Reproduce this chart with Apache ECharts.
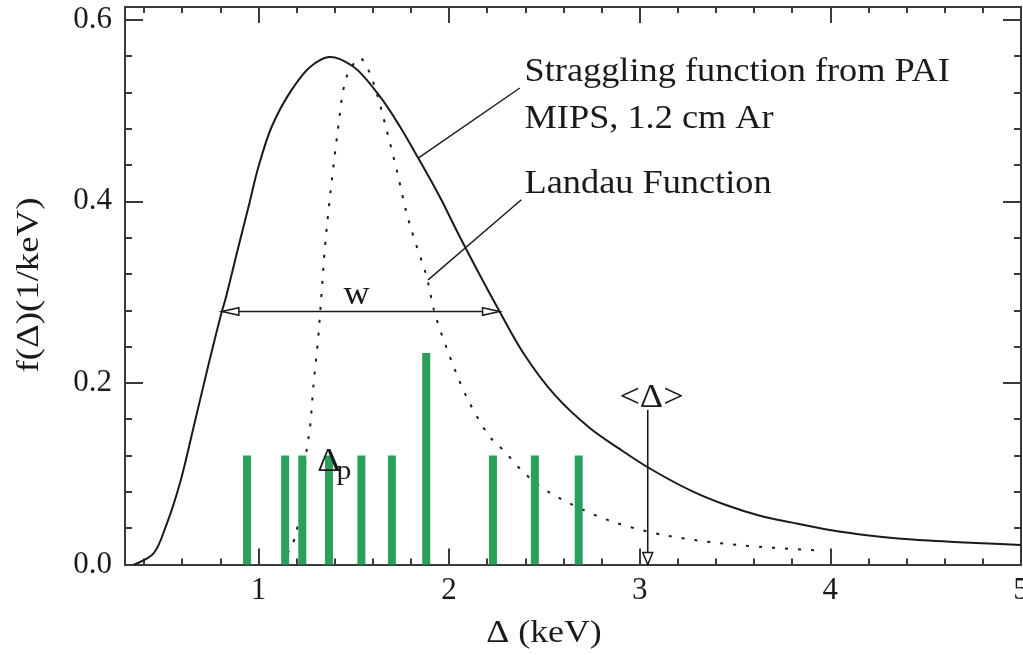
<!DOCTYPE html>
<html>
<head>
<meta charset="utf-8">
<title>Straggling function vs Landau function</title>
<script src="https://cdn.jsdelivr.net/npm/echarts@6.0.0/dist/echarts.min.js"></script>
<style>
  html, body { margin: 0; padding: 0; background: #ffffff; }
  #chart { width: 1023px; height: 655px; }
</style>
</head>
<body>
<div id="chart"></div>
<script>
// Energy loss Δ (keV) and density f(Δ) (1/keV) for the PAI straggling function
const stragglingDelta = [0.345, 0.363, 0.450, 0.520, 0.590, 0.660, 0.730, 0.808, 0.826, 0.895, 0.948, 1.000, 1.070, 1.175, 1.271, 1.370,
  1.497, 1.637, 1.742, 1.838, 1.951, 2.056, 2.265, 2.390, 2.554, 2.738, 2.894, 3.042, 3.277, 3.452, 3.626, 3.801, 3.998, 4.202, 4.412, 4.674, 5.000];
const stragglingDensity = [0.000, 0.0013, 0.0123, 0.0454, 0.0909, 0.1515, 0.2132, 0.2786, 0.2915, 0.350, 0.394, 0.438, 0.4824, 0.523, 0.548, 0.559,
  0.5485, 0.5155, 0.4824, 0.4476, 0.405, 0.361, 0.2786, 0.2327, 0.1868, 0.1504, 0.1273, 0.1071, 0.0805, 0.0655, 0.054, 0.0461, 0.038, 0.032, 0.0278, 0.0245, 0.0215];

// Landau function over the same energy-loss range
const landauDelta = [1.150, 1.166, 1.209, 1.253, 1.271, 1.288, 1.314, 1.328, 1.349, 1.370, 1.393, 1.419, 1.445, 1.471, 1.532,
  1.576, 1.620, 1.672, 1.725, 1.777, 1.815, 1.882, 1.925, 2.004, 2.091, 2.213, 2.283, 2.387, 2.492, 2.632, 2.841, 3.068, 3.225, 3.400, 3.626, 3.958];
const landauDensity = [0.0127, 0.016, 0.0454, 0.1262, 0.1518, 0.1959, 0.251, 0.2896, 0.3502, 0.3943, 0.4383, 0.4824, 0.5229, 0.5413, 0.5578,
  0.5449, 0.5192, 0.4788, 0.4347, 0.387, 0.360, 0.3171, 0.2768, 0.229, 0.1849, 0.1408, 0.1262, 0.1023, 0.084, 0.0674, 0.0483, 0.035, 0.0289, 0.024, 0.0196, 0.0152];

// Individual energy-loss samples (green bars)
const sampleDelta = [0.94, 1.14, 1.23, 1.37, 1.54, 1.70, 1.88, 2.23, 2.45, 2.68];
const sampleHeight = [0.12, 0.12, 0.12, 0.12, 0.12, 0.12, 0.233, 0.12, 0.12, 0.12];

// Tick values
const xMajorTicks = [1, 2, 3, 4, 5];
const xMinorTicks = [0.4, 0.6, 0.8, 1.2, 1.4, 1.6, 1.8, 2.2, 2.4, 2.6, 2.8, 3.2, 3.4, 3.6, 3.8, 4.2, 4.4, 4.6, 4.8];
const yMajorTicks = [0, 0.2, 0.4, 0.6];
const yMinorTicks = [0.04, 0.08, 0.12, 0.16, 0.24, 0.28, 0.32, 0.36, 0.44, 0.48, 0.52, 0.56];

// Annotation texts
const legendLines = ['Straggling function from PAI', 'MIPS, 1.2 cm Ar', 'Landau Function'];
const widthLabel = 'w';
const meanLabel = '<Δ>';
const peakLabel = ['Δ', 'p'];
const xTitle = 'Δ (keV)';
const yTitle = 'f(Δ)(1/keV)';

// Key quantities of the distribution
const fwhmLevel = 0.2786;             // half maximum
const fwhmRange = [0.808, 2.265];     // where the straggling curve crosses half maximum
const meanDelta = 3.042;              // mean energy loss <Δ>

// Annotation anchors in data units
const anchors = {
  legendX: 2.396,
  legendY: [0.5416, 0.4898, 0.4182],
  stragglingLeader: [[1.838, 0.4476], [2.371, 0.5248]],
  landauLeader: [[1.890, 0.3135], [2.379, 0.4017]],
  widthText: [1.515, 0.297],
  meanText: [3.062, 0.1835],
  meanArrowTop: 0.1703,
  peakText: [1.308, 0.113],
  peakSub: [1.41, 0.1025]
};

const FONT = '"Liberation Serif", "Times New Roman", serif';
const INK = '#1a1a1a';
const FRAME = '#3a3a3a';
const TEXT_STRETCH = 1.1;

const stragglingData = stragglingDelta.map((d, i) => [d, stragglingDensity[i]]);
const landauData = landauDelta.map((d, i) => [d, landauDensity[i]]);
const sampleData = sampleDelta.map((d, i) => [d, sampleHeight[i]]);

function xAxisDef(position, ticks, length, withLabels) {
  return {
    type: 'value', min: 0.3, max: 5, position: position,
    axisLine: { show: true, onZero: false, lineStyle: { color: FRAME, width: 2 } },
    axisTick: { show: true, inside: true, length: length, customValues: ticks, lineStyle: { color: FRAME, width: 2 } },
    axisLabel: withLabels ? {
      show: true, customValues: ticks, margin: 11, color: INK,
      fontFamily: FONT, fontSize: 31, formatter: v => String(v)
    } : { show: false },
    splitLine: { show: false },
    minorTick: { show: false }
  };
}
function yAxisDef(position, ticks, length, withLabels) {
  return {
    type: 'value', min: 0, max: 0.614, position: position,
    axisLine: { show: true, onZero: false, lineStyle: { color: FRAME, width: 2 } },
    axisTick: { show: true, inside: true, length: length, customValues: ticks, lineStyle: { color: FRAME, width: 2 } },
    axisLabel: withLabels ? {
      show: true, customValues: ticks, margin: 13, color: INK,
      fontFamily: FONT, fontSize: 31, formatter: v => v.toFixed(1)
    } : { show: false },
    splitLine: { show: false },
    minorTick: { show: false }
  };
}

const xAxes = [
  xAxisDef('bottom', xMajorTicks, 16, true),
  xAxisDef('bottom', xMinorTicks, 6, false),
  xAxisDef('top', xMajorTicks, 16, false),
  xAxisDef('top', xMinorTicks, 6, false)
];
const yAxes = [
  yAxisDef('left', yMajorTicks, 18, true),
  yAxisDef('left', yMinorTicks, 7, false),
  yAxisDef('right', yMajorTicks, 18, false),
  yAxisDef('right', yMinorTicks, 7, false)
];

// Centripetal Catmull-Rom spline through screen points, as an SVG path string
function splinePath(pts) {
  const n = pts.length;
  const P = i => {
    if (i < 0) return [2 * pts[0][0] - pts[1][0], 2 * pts[0][1] - pts[1][1]];
    if (i >= n) return [2 * pts[n - 1][0] - pts[n - 2][0], 2 * pts[n - 1][1] - pts[n - 2][1]];
    return pts[i];
  };
  const dist = (a, b) => Math.max(1e-6, Math.pow(Math.hypot(b[0] - a[0], b[1] - a[1]), 0.5));
  let d = 'M' + pts[0][0].toFixed(2) + ' ' + pts[0][1].toFixed(2);
  for (let i = 0; i < n - 1; i++) {
    const p0 = P(i - 1), p1 = P(i), p2 = P(i + 1), p3 = P(i + 2);
    const d1 = dist(p0, p1), d2 = dist(p1, p2), d3 = dist(p2, p3);
    const b1 = [0, 1].map(k => (d1 * d1 * p2[k] - d2 * d2 * p0[k] + (2 * d1 * d1 + 3 * d1 * d2 + d2 * d2) * p1[k]) / (3 * d1 * (d1 + d2)));
    const b2 = [0, 1].map(k => (d3 * d3 * p1[k] - d2 * d2 * p3[k] + (2 * d3 * d3 + 3 * d3 * d2 + d2 * d2) * p2[k]) / (3 * d3 * (d3 + d2)));
    d += ' C' + b1[0].toFixed(2) + ' ' + b1[1].toFixed(2) + ' ' + b2[0].toFixed(2) + ' ' + b2[1].toFixed(2) +
      ' ' + p2[0].toFixed(2) + ' ' + p2[1].toFixed(2);
  }
  return d;
}

function curveRenderer(points, lineStyle) {
  return function (params, api) {
    const px = points.map(p => api.coord(p));
    return {
      type: 'path',
      shape: { pathData: splinePath(px) },
      style: Object.assign({ fill: null, stroke: INK, lineWidth: 2 }, lineStyle)
    };
  };
}

function openHead(tip, dir, len, half) {
  // dir: unit vector pointing from the base towards the tip
  const bx = tip[0] - dir[0] * len, by = tip[1] - dir[1] * len;
  const nx = -dir[1], ny = dir[0];
  return {
    type: 'polygon',
    shape: { points: [tip, [bx + nx * half, by + ny * half], [bx - nx * half, by - ny * half]] },
    style: { fill: '#ffffff', stroke: INK, lineWidth: 1.5 }
  };
}

function textEl(p, text, size, align) {
  return {
    type: 'text', x: p[0], y: p[1], scaleX: TEXT_STRETCH, scaleY: 1,
    style: { text: text, font: size + 'px ' + FONT, fill: INK, align: align, verticalAlign: 'middle' }
  };
}

function renderAnnotations(params, api) {
  const c = p => api.coord(p);
  const children = [];
  const thin = { stroke: INK, lineWidth: 1.4, fill: null };

  // Leader lines from the curves to their descriptions
  [anchors.stragglingLeader, anchors.landauLeader].forEach(seg => {
    const a = c(seg[0]), b = c(seg[1]);
    children.push({ type: 'line', shape: { x1: a[0], y1: a[1], x2: b[0], y2: b[1] }, style: thin });
  });

  // Description texts
  legendLines.forEach((t, i) => {
    children.push(textEl(c([anchors.legendX, anchors.legendY[i]]), t, 33, 'left'));
  });

  // Width at half maximum: double-headed arrow
  const wl = c([fwhmRange[0], fwhmLevel]), wr = c([fwhmRange[1], fwhmLevel]);
  const headLen = 17, headHalf = 3.8;
  children.push({ type: 'line', shape: { x1: wl[0] + headLen, y1: wl[1], x2: wr[0] - headLen, y2: wr[1] },
    style: { stroke: INK, lineWidth: 1.6 } });
  children.push(openHead(wl, [-1, 0], headLen, headHalf));
  children.push(openHead(wr, [1, 0], headLen, headHalf));
  children.push(textEl(c(anchors.widthText), widthLabel, 33, 'center'));

  // Mean energy loss marker
  const mt = c([meanDelta, anchors.meanArrowTop]), mb = c([meanDelta, 0]);
  children.push({ type: 'line', shape: { x1: mt[0], y1: mt[1], x2: mb[0], y2: mb[1] - 12 },
    style: { stroke: INK, lineWidth: 1.6 } });
  children.push(openHead(mb, [0, 1], 12, 5));
  children.push(textEl(c(anchors.meanText), meanLabel, 33, 'center'));

  // Most probable energy loss label
  children.push(textEl(c(anchors.peakText), peakLabel[0], 33, 'left'));
  children.push(textEl(c(anchors.peakSub), peakLabel[1], 27, 'left'));

  return { type: 'group', children: children };
}

const chart = echarts.init(document.getElementById('chart'), null, { renderer: 'canvas' });
chart.setOption({
  backgroundColor: '#ffffff',
  animation: false,
  grid: { left: 125, right: 2, top: 7, bottom: 90.5, containLabel: false, outerBoundsMode: 'none' },
  xAxis: xAxes,
  yAxis: yAxes,
  graphic: [
    { type: 'text', x: 544, y: 634, scaleX: 1.12,
      style: { text: xTitle, font: '32px ' + FONT, fill: INK, align: 'center', verticalAlign: 'middle' } },
    { type: 'text', x: 30, y: 285, rotation: Math.PI / 2, scaleX: 1.15,
      style: { text: yTitle, font: '32px ' + FONT, fill: INK, align: 'center', verticalAlign: 'middle' } }
  ],
  series: [
    {
      name: 'Landau Function', type: 'custom', data: [0], z: 2, silent: true,
      renderItem: curveRenderer(landauData, { lineDash: [3, 10] })
    },
    {
      name: 'Energy-loss samples', type: 'bar', data: sampleData,
      barWidth: 8, z: 3,
      itemStyle: { color: '#2ba05a' }
    },
    {
      name: 'Straggling function from PAI', type: 'custom', data: [0], z: 4, silent: true,
      renderItem: curveRenderer(stragglingData, {})
    },
    {
      name: 'annotations', type: 'custom', data: [0], z: 5, silent: true,
      renderItem: renderAnnotations
    }
  ]
});
</script>
</body>
</html>
